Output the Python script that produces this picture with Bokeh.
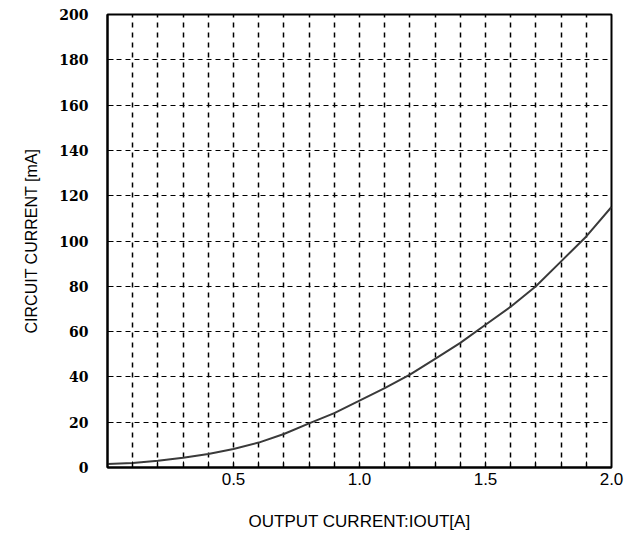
from bokeh.plotting import figure
from bokeh.models import FixedTicker, CustomJSTickFormatter, Range1d
from bokeh.embed import file_html
from bokeh.resources import INLINE

# Data
iout = [0.0, 0.1, 0.2, 0.3, 0.4, 0.5, 0.6, 0.7, 0.8, 0.9, 1.0,
        1.1, 1.2, 1.3, 1.4, 1.5, 1.6, 1.7, 1.8, 1.9, 2.0]
circuit_ma = [1.5, 2.0, 3.0, 4.3, 6.0, 8.2, 11.0, 14.8, 19.5, 24.0, 29.5,
              35.0, 41.0, 48.0, 55.0, 63.0, 71.0, 80.0, 91.0, 102.0, 115.0]
x_ticks = [round(i * 0.1, 1) for i in range(21)]
y_ticks = list(range(0, 201, 20))

p = figure(width=635, height=539, output_backend="svg", toolbar_location=None,
           x_range=Range1d(0, 2.0), y_range=Range1d(0, 200),
           min_border_left=107, min_border_top=14, min_border_right=24,
           min_border_bottom=72)

p.line(iout, circuit_ma, line_color="#3a3a3a", line_width=2)

p.xaxis.ticker = FixedTicker(ticks=x_ticks)
p.yaxis.ticker = FixedTicker(ticks=y_ticks)
p.xaxis.formatter = CustomJSTickFormatter(code="""
const t2 = tick * 2;
if (tick > 0.01 && Math.abs(t2 - Math.round(t2)) < 1e-6) return tick.toFixed(1);
return '';
""")

for ax in (p.xaxis[0], p.yaxis[0]):
    ax.axis_line_color = "black"
    ax.axis_line_width = 2
    ax.major_tick_in = 6
    ax.major_tick_out = 0
    ax.major_tick_line_color = "black"
    ax.major_tick_line_width = 1
    ax.minor_tick_line_color = None
    ax.axis_label_text_font = "Liberation Sans"
    ax.axis_label_text_font_style = "normal"
    ax.axis_label_text_color = "black"

p.xaxis.major_label_text_font = "Liberation Sans"
p.xaxis.major_label_text_font_size = "17px"
p.xaxis.major_label_text_color = "black"
p.xaxis.major_label_standoff = 5
p.xaxis.axis_label = "OUTPUT CURRENT:IOUT[A]"
p.xaxis.axis_label_text_font_size = "17px"
p.xaxis.axis_label_standoff = 24

p.yaxis.major_label_text_font = "DejaVu Serif"
p.yaxis.major_label_text_font_size = "14px"
p.yaxis.major_label_text_font_style = "bold"
p.yaxis.major_label_text_color = "black"
p.yaxis.major_label_standoff = 19
p.yaxis.axis_label = "CIRCUIT CURRENT [mA]"
p.yaxis.axis_label_text_font_size = "16px"
p.yaxis.axis_label_standoff = 16

p.xgrid.grid_line_color = "black"
p.xgrid.grid_line_dash = "5 5"
p.xgrid.grid_line_width = 1.5
p.ygrid.grid_line_color = "black"
p.ygrid.grid_line_dash = "5 4"
p.ygrid.grid_line_width = 1

p.outline_line_color = "black"
p.outline_line_width = 2
p.background_fill_color = "white"
p.border_fill_color = "white"

open("out.html", "w").write(file_html(p, INLINE))
